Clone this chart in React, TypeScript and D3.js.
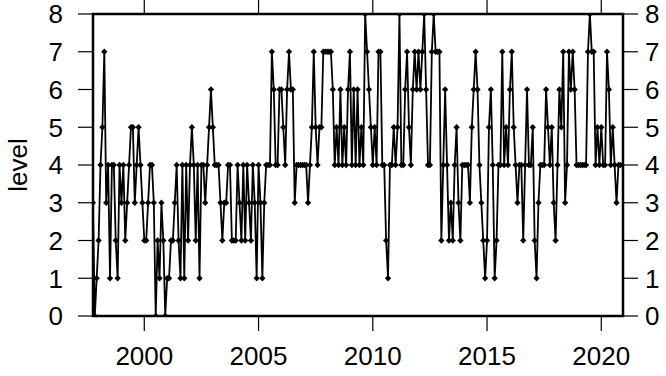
import React from "react";
import * as d3 from "d3";

const startYear = 1997;
const startMonth = 10; // October
const levels1997 = [3, 0, 1];
const levels1998 = [2, 4, 5, 7, 3, 4, 1, 4, 4, 2, 1, 4];
const levels1999 = [3, 4, 2, 3, 4, 5, 5, 3, 4, 5, 4, 3];
const levels2000 = [2, 2, 3, 4, 4, 3, 0, 2, 1, 3, 2, 0];
const levels2001 = [1, 1, 2, 2, 3, 4, 2, 1, 4, 1, 4, 2];
const levels2002 = [4, 5, 4, 2, 4, 1, 4, 4, 3, 4, 5, 6];
const levels2003 = [5, 4, 4, 4, 3, 2, 3, 3, 4, 4, 2, 2];
const levels2004 = [2, 4, 3, 2, 4, 2, 4, 3, 2, 4, 3, 1];
const levels2005 = [4, 3, 1, 3, 4, 4, 4, 7, 6, 4, 4, 6];
const levels2006 = [6, 5, 4, 6, 7, 6, 6, 3, 4, 4, 4, 4];
const levels2007 = [4, 4, 3, 4, 5, 7, 5, 4, 5, 5, 7, 7];
const levels2008 = [7, 7, 7, 6, 4, 5, 4, 6, 4, 5, 4, 6];
const levels2009 = [7, 4, 6, 4, 6, 4, 5, 4, 8, 7, 6, 5];
const levels2010 = [4, 5, 4, 7, 7, 4, 4, 2, 1, 4, 4, 5];
const levels2011 = [4, 5, 8, 4, 4, 6, 7, 5, 4, 6, 7, 6];
const levels2012 = [7, 6, 7, 8, 6, 4, 4, 7, 8, 7, 7, 7];
const levels2013 = [2, 4, 6, 4, 2, 3, 2, 4, 5, 3, 2, 4];
const levels2014 = [4, 4, 4, 3, 5, 6, 7, 6, 4, 3, 2, 1];
const levels2015 = [2, 5, 6, 4, 1, 2, 4, 4, 7, 4, 5, 4];
const levels2016 = [6, 7, 5, 4, 3, 4, 4, 2, 4, 6, 4, 4];
const levels2017 = [5, 2, 1, 3, 4, 4, 4, 6, 5, 4, 5, 3];
const levels2018 = [2, 4, 6, 5, 7, 3, 4, 7, 6, 7, 6, 4];
const levels2019 = [4, 4, 4, 4, 4, 7, 8, 7, 7, 4, 5, 4];
const levels2020 = [5, 4, 4, 7, 6, 4, 5, 4, 3, 4, 4];

const xTicks = [2000, 2005, 2010, 2015, 2020];
const yTicks = [0, 1, 2, 3, 4, 5, 6, 7, 8];
const xDomain = [1997.755, 2020.95];
const yDomain = [0, 8];
const yLabel = "level";

const allLevels = [
  ...levels1997, ...levels1998, ...levels1999, ...levels2000, ...levels2001,
  ...levels2002, ...levels2003, ...levels2004, ...levels2005, ...levels2006,
  ...levels2007, ...levels2008, ...levels2009, ...levels2010, ...levels2011,
  ...levels2012, ...levels2013, ...levels2014, ...levels2015, ...levels2016,
  ...levels2017, ...levels2018, ...levels2019, ...levels2020,
];
const series = allLevels.map((v, i) => ({
  t: startYear + (startMonth - 1 + i) / 12,
  v,
}));

const W = 666;
const H = 376;
const L = 93;
const R = 623;
const T = 14;
const B = 316;
const FONT = "'Liberation Sans', Arial, Helvetica, sans-serif";

export default function App() {
  const x = d3.scaleLinear().domain(xDomain).range([L, R]);
  const y = d3.scaleLinear().domain(yDomain).range([B, T]);
  const line = d3
    .line<{ t: number; v: number }>()
    .x((d) => x(d.t))
    .y((d) => y(d.v));
  const marker = d3.symbol(d3.symbolSquare, 20)() as string;
  const tickLen = 15;

  return (
    <svg
      width={W}
      height={H}
      style={{ position: "absolute", left: 0, top: 0, background: "#fff" }}
      fontFamily={FONT}
    >
      <defs>
        <clipPath id="panel">
          <rect x={L} y={T} width={R - L} height={B - T} />
        </clipPath>
      </defs>
      <g clipPath="url(#panel)">
        <path d={line(series) as string} fill="none" stroke="#000" strokeWidth={1.8} strokeLinejoin="round" />
        {series.map((d, i) => (
          <path
            key={i}
            d={marker}
            transform={`translate(${x(d.t)},${y(d.v)}) rotate(45)`}
            fill="#000"
          />
        ))}
      </g>
      <rect x={L} y={T} width={R - L} height={B - T} fill="none" stroke="#000" strokeWidth={2.5} />
      {xTicks.map((t) => (
        <g key={"x" + t}>
          <line x1={x(t)} x2={x(t)} y1={B} y2={B + tickLen} stroke="#000" strokeWidth={1.2} />
          <line x1={x(t)} x2={x(t)} y1={T} y2={T - tickLen} stroke="#000" strokeWidth={1.2} />
          <text x={x(t)} y={365} textAnchor="middle" fontSize={26} fill="#000">
            {t}
          </text>
        </g>
      ))}
      {yTicks.map((v) => (
        <g key={"y" + v}>
          <line x1={L} x2={L - tickLen} y1={y(v)} y2={y(v)} stroke="#000" strokeWidth={1.2} />
          <line x1={R} x2={R + tickLen} y1={y(v)} y2={y(v)} stroke="#000" strokeWidth={1.2} />
          <text x={L - 30} y={y(v)} dy="0.36em" textAnchor="end" fontSize={26} fill="#000">
            {v}
          </text>
          <text x={R + 22} y={y(v)} dy="0.36em" textAnchor="start" fontSize={26} fill="#000">
            {v}
          </text>
        </g>
      ))}
      <text
        transform={`translate(27,${(T + B) / 2}) rotate(-90)`}
        textAnchor="middle"
        fontSize={26}
        fill="#000"
      >
        {yLabel}
      </text>
    </svg>
  );
}
